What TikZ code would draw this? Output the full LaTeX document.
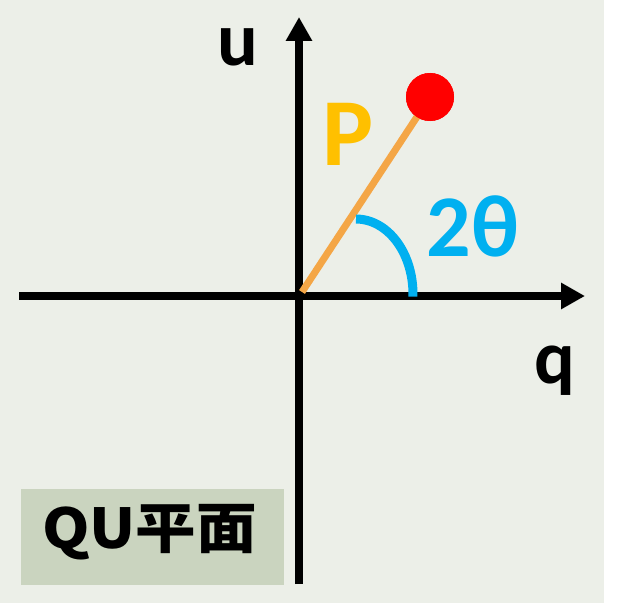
\documentclass[tikz,border=0pt]{standalone}
\usepackage{fontspec}
\setmainfont{Carlito}
\newfontfamily\cjkfont{Noto Sans CJK JP}
\usetikzlibrary{arrows.meta}
\definecolor{bgcol}{HTML}{ECEFE8}
\definecolor{boxcol}{HTML}{CAD4BF}
\definecolor{linecol}{HTML}{F4A646}
\definecolor{pcol}{HTML}{FFC000}
\definecolor{bluecol}{HTML}{00B0F0}
\definecolor{redcol}{HTML}{FF0000}
\tikzset{
  axis/.style={line width=8pt, -{Triangle[length=24pt,width=25pt]}},
  lbl/.style={inner sep=0pt, anchor=base, font=\bfseries\fontsize{76}{80}\selectfont},
}
\begin{document}
\begin{tikzpicture}[x=1pt,y=-1pt]
\useasboundingbox (0,0) rectangle (619,610);
\fill[white] (0,0) rectangle (619,610);
\fill[bgcol] (0,0) rectangle (604,603);
\fill[boxcol] (21,489) rectangle (284,585);
\coordinate (O) at (299,296);
\coordinate (xl) at (19,296);
\coordinate (xr) at (585,296);
\coordinate (yb) at (299,584);
\coordinate (yt) at (299,17);
\draw[axis] (xl) -- (xr);
\draw[axis] (yb) -- (yt);
\coordinate (lo) at (302,292);
\node[circle, fill=redcol, minimum size=48pt, inner sep=0pt] (pt) at (430,97) {};
\draw[linecol, line width=7pt] (lo) -- (pt.center);
\node[circle, fill=redcol, minimum size=48pt, inner sep=0pt] at (pt) {};
\coordinate (as) at (356,219);
\draw[bluecol, line width=9pt] (as) arc[start angle=90, end angle=-2, x radius=57, y radius=-75];
\node[lbl] (u) at (238,66) {u};
\node[lbl] (q) at (555,383) {q};
\node[lbl, text=pcol, font=\bfseries\fontsize{96}{100}\selectfont] (P) at (348,165) {P};
\node[lbl, text=bluecol, font=\bfseries\fontsize{88}{92}\selectfont] (th) at (473,256) {2θ};
\node[inner sep=0pt, anchor=base west, font=\cjkfont\bfseries\fontsize{55}{58}\selectfont] (qu) at (42,548) {\scalebox{1.1}[1]{QU平面}};
\end{tikzpicture}
\end{document}
